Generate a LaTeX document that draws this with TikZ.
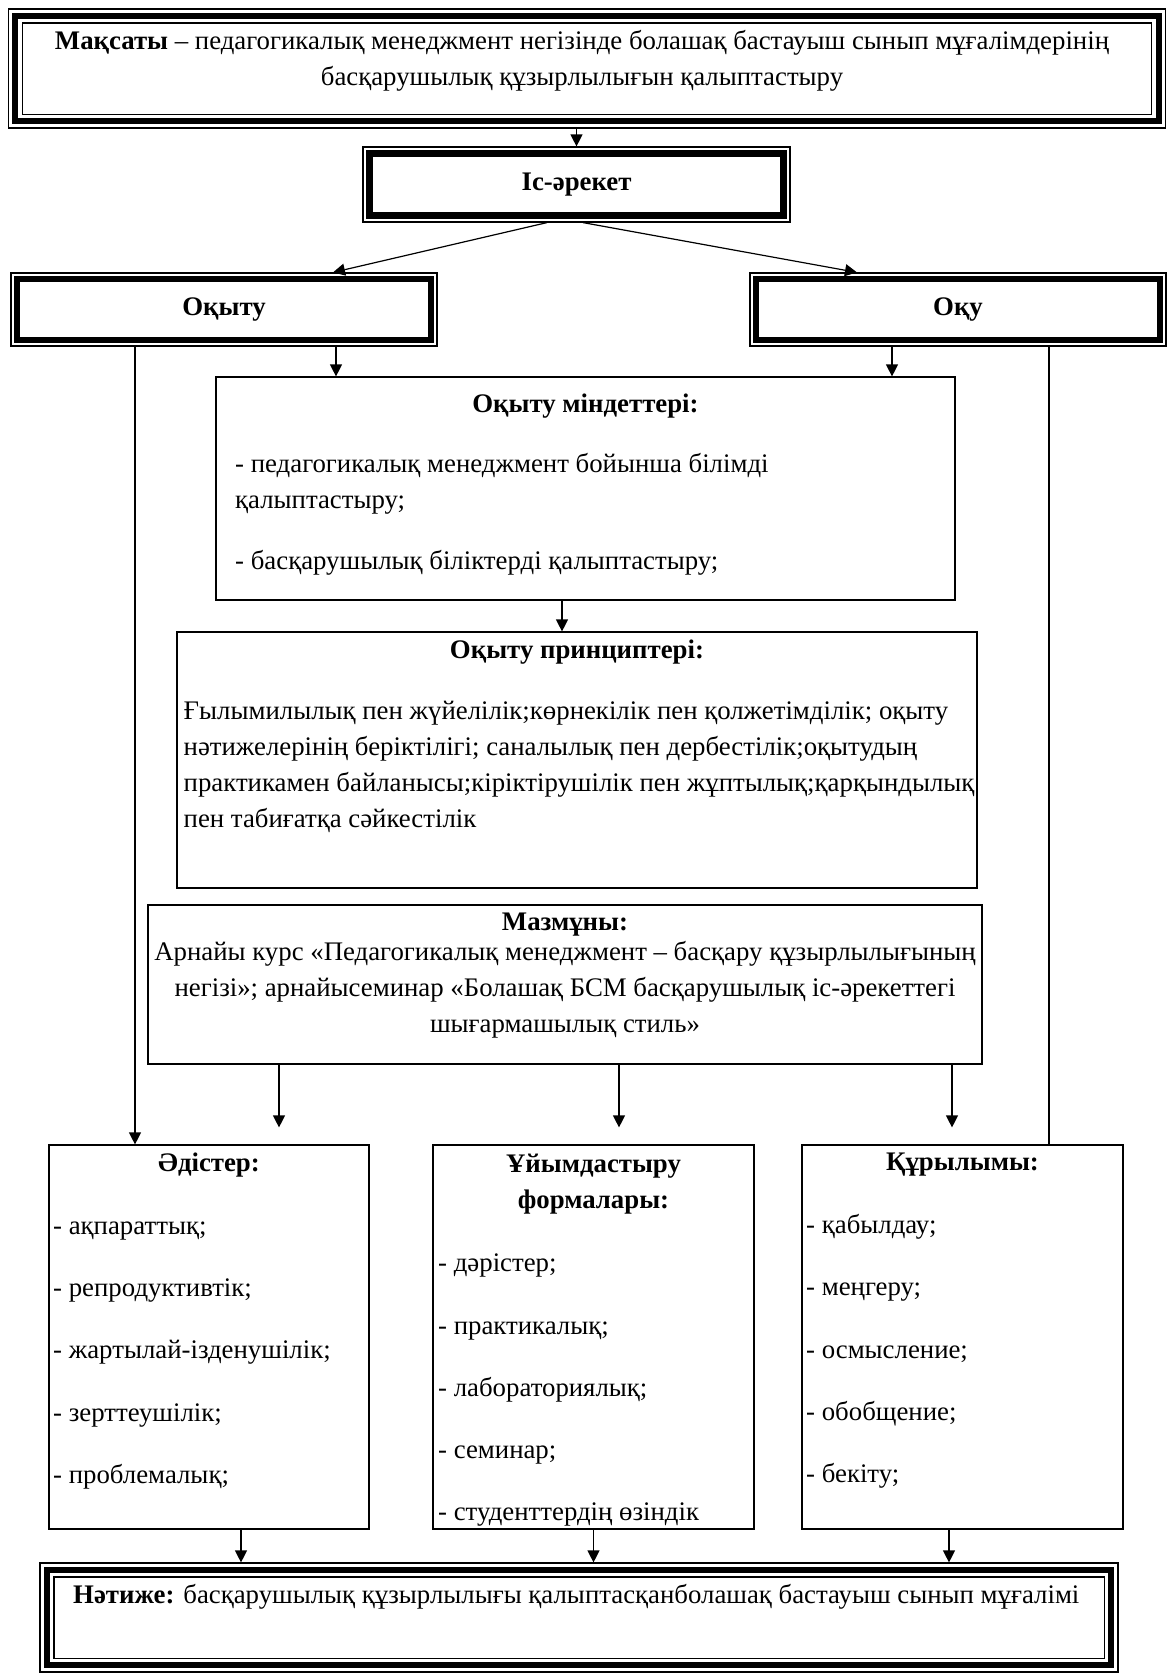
\documentclass[tikz,border=0pt]{standalone}
\usepackage{fontspec}
\setmainfont{Liberation Serif}
\usetikzlibrary{arrows.meta, positioning, calc}
\newcommand{\topstrut}{\rule{0pt}{19pt}}

\begin{document}
\begin{tikzpicture}[
  x=1pt, y=-1pt,
  font=\fontsize{26.8}{36}\selectfont,
  box/.style={draw, line width=1.2pt, inner sep=0pt},
  hd/.style={font=\fontsize{26.8}{36}\selectfont\bfseries, align=center},
  txt/.style={align=left, anchor=north west, inner sep=0pt},
  items/.style={txt, font=\fontsize{26.8}{62.3}\selectfont},
  arr/.style={-{Triangle[width=12pt,length=12pt]}, line width=1.2pt},
  arrgap/.style={arr, shorten >=17pt},
  ln/.style={line width=1.2pt},
]
\useasboundingbox (0,0) rectangle (1175,1674);
% Goal (triple frame)
\node[box, minimum width=1157pt, minimum height=119pt] (goal) at (587,68.5) {};
\draw[line width=6pt] ($(goal.north west)+(7.5,7.5)$) rectangle ($(goal.south east)+(-7.5,-7.5)$);
\draw[ln] ($(goal.north west)+(14.5,14.5)$) rectangle ($(goal.south east)+(-14.5,-14.5)$);
\node[align=center] (goaltxt) at (582,61)
  {\textbf{Мақсаты} – педагогикалық менеджмент негізінде болашақ бастауыш сынып мұғалімдерінің\\
   басқарушылық құзырлылығын қалыптастыру};
% Activity
\node[box, hd, minimum width=427pt, minimum height=75pt] (act) at (576.5,184.5) {Іс-әрекет};
\draw[line width=7pt] ($(act.north west)+(7.5,7.5)$) rectangle ($(act.south east)+(-7.5,-7.5)$);
% Teaching / learning
\node[box, hd, minimum width=426pt, minimum height=73pt] (teach) at (224,309.5) {Оқыту};
\draw[line width=6pt] ($(teach.north west)+(7,7)$) rectangle ($(teach.south east)+(-7,-7)$);
\node[box, hd, minimum width=416pt, minimum height=73pt] (learn) at (958,309.5) {Оқу};
\draw[line width=6pt] ($(learn.north west)+(7,7)$) rectangle ($(learn.south east)+(-7,-7)$);
% Tasks
\node[box, minimum width=739pt, minimum height=223pt] (tasks) at (585.5,488.5) {};
\node[hd] (taskshd) at (585.5,406) {Оқыту міндеттері:};
\node[txt] (taskstxt) at (235,453.5)
  {\topstrut- педагогикалық менеджмент бойынша білімді\\ қалыптастыру;\\[25pt]
   - басқарушылық біліктерді қалыптастыру;};
% Principles
\node[box, minimum width=800pt, minimum height=256pt] (princ) at (577,760) {};
\node[hd] (princhd) at (577,652) {Оқыту принциптері:};
\node[txt] (princtxt) at (183.5,700)
  {\topstrut Ғылымилылық пен жүйелілік;көрнекілік пен қолжетімділік; оқыту\\
   нәтижелерінің беріктілігі; саналылық пен дербестілік;оқытудың\\
   практикамен байланысы;кіріктірушілік пен жұптылық;қарқындылық\\
   пен табиғатқа сәйкестілік};
% Content
\node[box, minimum width=834pt, minimum height=159pt] (content) at (565,984.5) {};
\node[hd] (contenthd) at (565,925) {Мазмұны:};
\node[align=center, inner sep=0pt] (contenttxt) at (565,990)
  {Арнайы курс «Педагогикалық менеджмент – басқару құзырлылығының\\
   негізі»; арнайысеминар «Болашақ БСМ басқарушылық іс-әрекеттегі\\
   шығармашылық стиль»};
% Methods / forms / structure
\node[box, minimum width=320pt, minimum height=384pt] (methods) at (209,1337) {};
\node[hd] (methodshd) at (209,1165) {Әдістер:};
\node[items] (methodstxt) at (53,1215)
  {\topstrut- ақпараттық;\\ - репродуктивтік;\\ - жартылай-ізденушілік;\\ - зерттеушілік;\\ - проблемалық;};
\node[box, minimum width=321pt, minimum height=384pt] (forms) at (593.5,1337) {};
\node[hd] (formshd) at (593.5,1184.5) {Ұйымдастыру\\ формалары:};
\node[items] (formstxt) at (438,1252.5)
  {\topstrut- дәрістер;\\ - практикалық;\\ - лабораториялық;\\ - семинар;\\ - студенттердің өзіндік};
\node[box, minimum width=321pt, minimum height=384pt] (struct) at (962.5,1337) {};
\node[hd] (structhd) at (962.5,1165) {Құрылымы:};
\node[items] (structtxt) at (806,1214)
  {\topstrut- қабылдау;\\ - меңгеру;\\ - осмысление;\\ - обобщение;\\ - бекіту;};
% Result (triple frame)
\node[box, minimum width=1078pt, minimum height=109pt] (result) at (579,1617.5) {};
\draw[line width=6pt] ($(result.north west)+(7.5,7.5)$) rectangle ($(result.south east)+(-7.5,-7.5)$);
\draw[ln] ($(result.north west)+(14.5,14.5)$) rectangle ($(result.south east)+(-14.5,-14.5)$);
\node[txt] (resulttxt) at (73,1584.5)
  {\topstrut\textbf{Нәтиже:} басқарушылық құзырлылығы қалыптасқанболашақ бастауыш сынып мұғалімі};
% Connectors
\draw[arr] (goal.south -| act.north) -- (act.north);
\draw[arr] ($(act.south)+(-29.5,0)$) -- ($(teach.north)+(109,0)$);
\draw[arr] ($(act.south)+(6.5,0)$) -- ($(learn.north)+(-101,0)$);
\draw[arr] ($(teach.south)+(112,0)$) coordinate (t1) -- (t1 |- tasks.north);
\draw[arr] ($(learn.south)+(-66,0)$) coordinate (l1) -- (l1 |- tasks.north);
\draw[arr] ($(teach.south)+(-89,0)$) coordinate (t2) -- (t2 |- methods.north);
\draw[ln] ($(learn.south)+(91,0)$) coordinate (l2) -- (l2 |- struct.north);
\draw[arr] ($(tasks.south)+(-23.5,0)$) coordinate (k1) -- (k1 |- princ.north);
\draw[arrgap] ($(content.south)+(-286,0)$) coordinate (c1) -- (c1 |- methods.north);
\draw[arrgap] ($(content.south)+(54,0)$) coordinate (c2) -- (c2 |- forms.north);
\draw[arrgap] ($(content.south)+(387,0)$) coordinate (c3) -- (c3 |- struct.north);
\draw[arr] ($(methods.south)+(32,0)$) coordinate (m1) -- (m1 |- result.north);
\draw[arr] (forms.south) -- (forms.south |- result.north);
\draw[arr] ($(struct.south)+(-13.5,0)$) coordinate (s1) -- (s1 |- result.north);
\end{tikzpicture}
\end{document}
